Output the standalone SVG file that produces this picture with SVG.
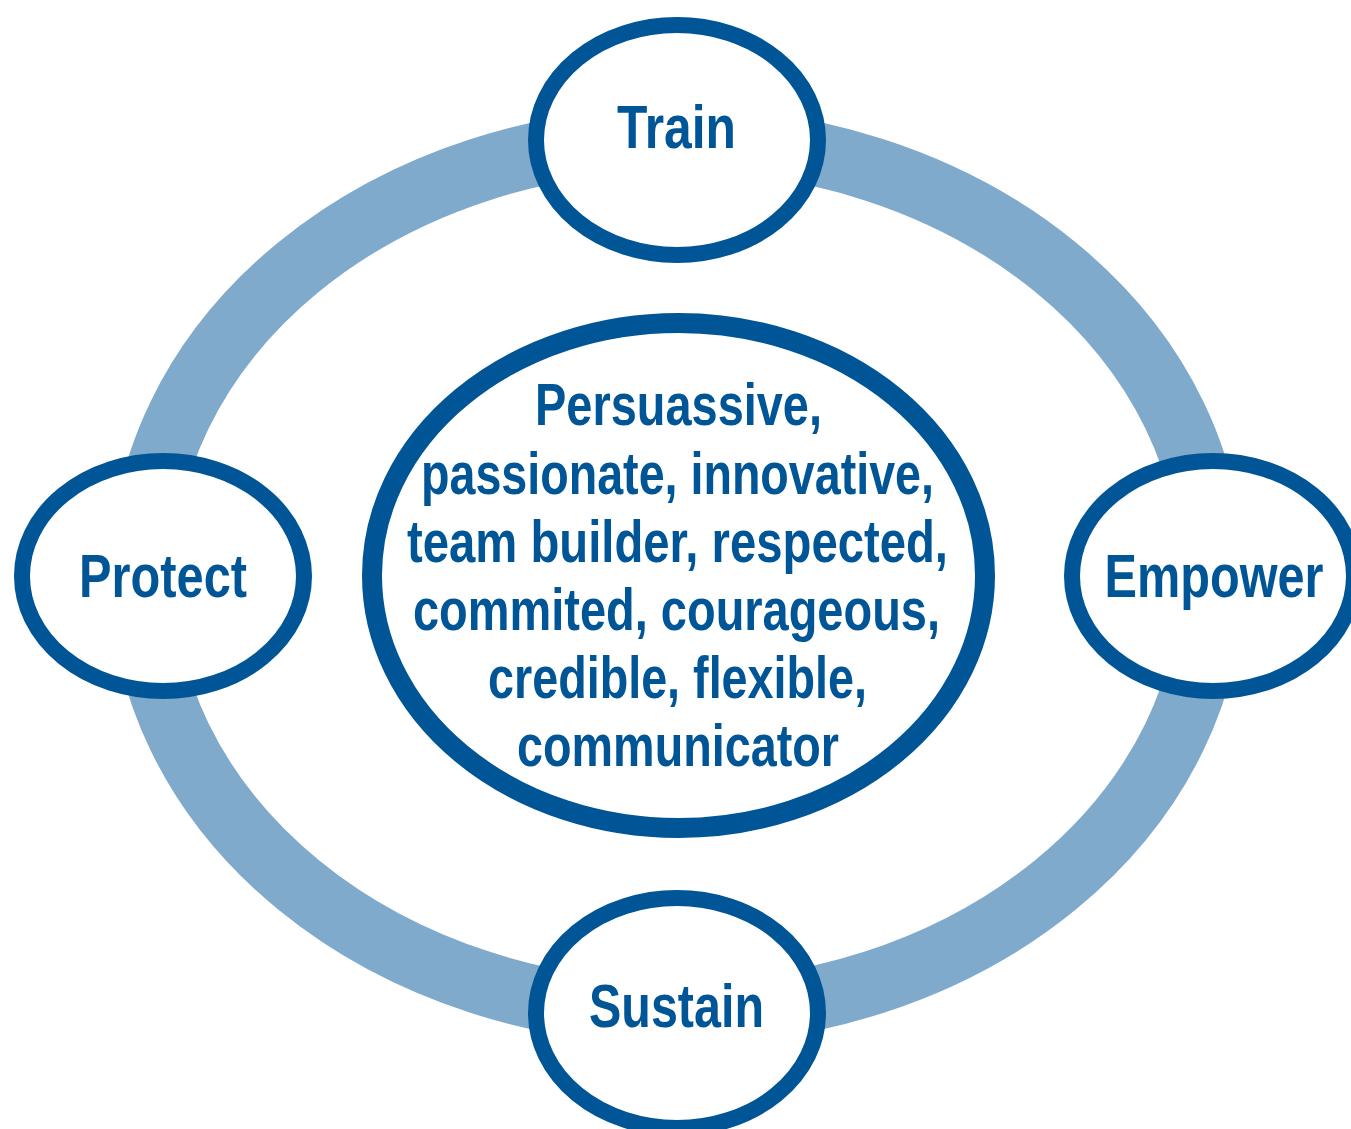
<svg xmlns="http://www.w3.org/2000/svg" width="1351" height="1129" viewBox="0 0 1351 1129">
  <style>
    .ring { fill: none; stroke: #80AACB; stroke-width: 64; }
    .node { fill: #FFFFFF; stroke: #005596; stroke-width: 16; }
    .core { fill: #FFFFFF; stroke: #005596; stroke-width: 20; }
    .lbl { font-family: "Liberation Sans", Arial, sans-serif; font-weight: bold; fill: #005596; text-anchor: middle; }
    .big { font-size: 62px; }
    .mid { font-size: 59px; }
  </style>
  <rect width="1351" height="1129" fill="#FFFFFF"/>
  <g id="connectors">
    <ellipse class="ring" cx="677" cy="576" rx="535" ry="437"/>
  </g>
  <g id="center">
    <ellipse class="core" cx="678.5" cy="575.5" rx="306.5" ry="252.5"/>
    <text class="lbl mid" x="678.5" y="425" textLength="287" lengthAdjust="spacingAndGlyphs">Persuassive,</text>
    <text class="lbl mid" x="677.5" y="494" textLength="513" lengthAdjust="spacingAndGlyphs">passionate, innovative,</text>
    <text class="lbl mid" x="677.5" y="562" textLength="541" lengthAdjust="spacingAndGlyphs">team builder, respected,</text>
    <text class="lbl mid" x="676.5" y="630" textLength="527" lengthAdjust="spacingAndGlyphs">commited, courageous,</text>
    <text class="lbl mid" x="677.5" y="698" textLength="379" lengthAdjust="spacingAndGlyphs">credible, flexible,</text>
    <text class="lbl mid" x="678" y="766" textLength="322" lengthAdjust="spacingAndGlyphs">communicator</text>
  </g>
  <g id="train">
    <ellipse class="node" cx="677" cy="140" rx="141" ry="115"/>
    <text class="lbl big" x="676.5" y="148" textLength="119" lengthAdjust="spacingAndGlyphs">Train</text>
  </g>
  <g id="protect">
    <ellipse class="node" cx="163" cy="576" rx="141" ry="115"/>
    <text class="lbl big" x="163" y="597" textLength="168" lengthAdjust="spacingAndGlyphs">Protect</text>
  </g>
  <g id="empower">
    <ellipse class="node" cx="1213" cy="576" rx="141" ry="115"/>
    <text class="lbl big" x="0" y="0" transform="translate(1214 597) scale(0.785 1)">Empower</text>
  </g>
  <g id="sustain">
    <ellipse class="node" cx="677" cy="1013" rx="141" ry="115"/>
    <text class="lbl big" x="676.5" y="1027" textLength="175" lengthAdjust="spacingAndGlyphs">Sustain</text>
  </g>
</svg>
